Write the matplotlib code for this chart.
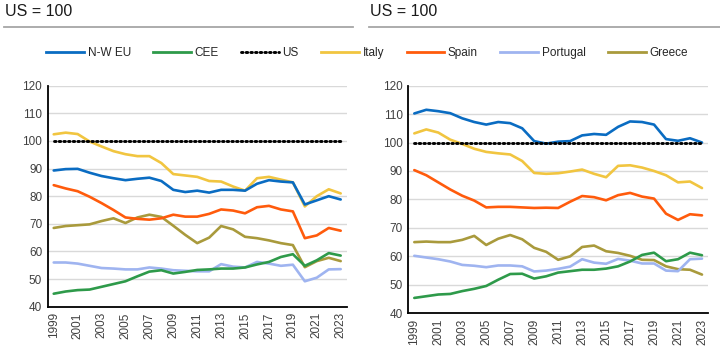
import matplotlib
matplotlib.use("Agg")
import matplotlib.pyplot as plt
from matplotlib.lines import Line2D

plt.rcParams['font.family'] = ['Liberation Sans', 'DejaVu Sans']

years = list(range(1999, 2024))

# Left panel
nw_eu_l = [89.3, 89.8, 89.9, 88.5, 87.3, 86.5, 85.8, 86.3, 86.7, 85.5, 82.3, 81.5, 82.0, 81.3, 82.3, 82.3, 82.0, 84.5, 85.8, 85.3, 85.0, 77.0, 78.5, 80.0, 78.8]
cee_l = [44.7, 45.5, 46.0, 46.2, 47.2, 48.2, 49.2, 51.0, 52.7, 53.2, 52.0, 52.6, 53.3, 53.5, 53.8, 53.8, 54.2, 55.3, 56.2, 58.0, 59.0, 54.8, 56.8, 59.4, 58.5]
italy_l = [102.4, 103.0, 102.5, 99.8, 98.0, 96.3, 95.2, 94.5, 94.5, 92.0, 88.0, 87.5, 87.0, 85.5, 85.3, 83.5, 82.0, 86.5, 87.0, 86.0, 85.0, 76.3, 80.0, 82.5, 81.0]
spain_l = [84.0, 82.8, 81.8, 79.8, 77.5, 75.0, 72.3, 71.8, 71.5, 72.0, 73.3, 72.6, 72.6, 73.6, 75.2, 74.8, 73.8, 76.0, 76.5, 75.2, 74.5, 64.8, 65.8, 68.5, 67.5]
portugal_l = [56.0, 56.0, 55.6, 54.8, 54.0, 53.8, 53.5, 53.5, 54.2, 53.8, 53.2, 53.0, 52.8, 52.8, 55.4, 54.5, 54.2, 56.2, 55.6, 54.8, 55.2, 49.2, 50.5, 53.5, 53.6]
greece_l = [68.5, 69.2, 69.5, 69.8, 71.0, 72.0, 70.3, 72.3, 73.3, 72.5, 69.3, 66.0, 63.0, 65.0, 69.2, 68.0, 65.3, 64.8, 64.0, 63.0, 62.3, 54.3, 56.5, 57.7, 56.5]

# Right panel
nw_eu_r = [110.2, 111.5, 111.0, 110.3, 108.5, 107.2, 106.3, 107.2, 106.8, 105.0, 100.5, 99.6, 100.3, 100.5, 102.5, 103.0, 102.7, 105.5, 107.4, 107.2, 106.3, 101.2, 100.6, 101.5, 100.0]
cee_r = [45.4, 46.0, 46.6, 46.8, 47.8, 48.6, 49.6, 51.8, 53.8, 53.9, 52.2, 53.0, 54.3, 54.8, 55.3, 55.3, 55.7, 56.5, 58.2, 60.5, 61.3, 58.3, 59.0, 61.3, 60.4]
italy_r = [103.2, 104.6, 103.5, 101.0, 99.5, 97.8, 96.7, 96.2, 95.8, 93.5, 89.3, 89.0, 89.2, 89.8, 90.5, 89.0, 87.8, 91.8, 92.0, 91.2, 90.0, 88.5, 86.0, 86.3, 84.0]
spain_r = [90.3, 88.5, 86.0, 83.5, 81.3, 79.6, 77.2, 77.4, 77.4, 77.2, 77.0, 77.1, 77.0, 79.2, 81.2, 80.8, 79.7, 81.5, 82.3, 81.0, 80.3, 75.0, 72.8, 74.8, 74.4]
portugal_r = [60.2, 59.6, 59.0, 58.2, 57.0, 56.7, 56.2, 56.8, 56.8, 56.5, 54.7, 55.0, 55.6, 56.4, 59.0, 57.8, 57.4, 59.1, 58.5, 57.5, 57.5, 55.0, 54.8, 59.0, 59.2]
greece_r = [65.0, 65.2, 65.0, 65.0, 65.8, 67.2, 64.0, 66.2, 67.5, 66.0, 63.0, 61.6, 58.8, 60.0, 63.3, 63.8, 61.8, 61.2, 60.2, 58.8, 58.7, 56.5, 55.5, 55.3, 53.6]

us = [100] * len(years)

series_names = ["N-W EU", "CEE", "US", "Italy", "Spain", "Portugal", "Greece"]
colors = {"N-W EU": "#0a6cc2", "CEE": "#2e9a4a", "US": "#000000", "Italy": "#f1c540",
          "Spain": "#ff5b0c", "Portugal": "#9fb4f0", "Greece": "#a99a3c"}
yticks = [40, 50, 60, 70, 80, 90, 100, 110, 120]
xtick_years = years[::2]

fig = plt.figure(figsize=(7.2, 3.59), dpi=100)

panels = [
    ([0.0663, 0.1457, 0.4152, 0.6156], {"N-W EU": nw_eu_l, "CEE": cee_l, "Italy": italy_l, "Spain": spain_l, "Portugal": portugal_l, "Greece": greece_l}),
    ([0.5671, 0.1273, 0.4162, 0.6343], {"N-W EU": nw_eu_r, "CEE": cee_r, "Italy": italy_r, "Spain": spain_r, "Portugal": portugal_r, "Greece": greece_r}),
]

draw_order = ["Greece", "Portugal", "CEE", "Spain", "Italy", "N-W EU"]
for rect, data in panels:
    ax = fig.add_axes(rect)
    for name in draw_order:
        ax.plot(years, data[name], color=colors[name], lw=1.9, solid_capstyle='round', solid_joinstyle='round', zorder=3)
    ax.plot(years, us, color='black', lw=2.1, linestyle=(0, (0.55, 1.05)), dash_capstyle='round', zorder=4)
    ax.set_xlim(1998.5, 2023.5)
    ax.set_ylim(40, 120)
    ax.set_yticks(yticks)
    ax.set_xticks(xtick_years)
    ax.set_xticklabels([str(y) for y in xtick_years], rotation=90)
    ax.tick_params(axis='both', labelsize=8.5, colors='#404040', length=0, pad=4)
    ax.grid(axis='y', color='#d9d9d9', lw=1.0, zorder=0)
    ax.set_axisbelow(True)
    for s in ['top', 'right']:
        ax.spines[s].set_visible(False)
    for s in ['left', 'bottom']:
        ax.spines[s].set_color('black')
        ax.spines[s].set_linewidth(1.3)

# Panel titles and rules
fig.text(5 / 720, 1 - 12 / 359, "US = 100", fontsize=11.5, va='center', ha='left', color='#1a1a1a')
fig.text(370 / 720, 1 - 12 / 359, "US = 100", fontsize=11.5, va='center', ha='left', color='#1a1a1a')
fig.add_artist(Line2D([4 / 720, 353 / 720], [1 - 27 / 359, 1 - 27 / 359], color='#a6a6a6', lw=1.3))
fig.add_artist(Line2D([369 / 720, 1.0], [1 - 27 / 359, 1 - 27 / 359], color='#a6a6a6', lw=1.3))

handles = []
for name in series_names:
    if name == "US":
        handles.append(Line2D([], [], color='black', lw=2.1, linestyle=(0, (0.55, 1.05)), dash_capstyle='round'))
    else:
        handles.append(Line2D([], [], color=colors[name], lw=2.0))
fig.legend(handles, series_names, loc='center', bbox_to_anchor=(0.5 + 7 / 720, 1 - 53 / 359), ncol=7,
           frameon=False, fontsize=8.5, handlelength=3.2, handletextpad=0.3, columnspacing=1.9,
           labelcolor='#262626')

fig.savefig("out.png", dpi=100)
